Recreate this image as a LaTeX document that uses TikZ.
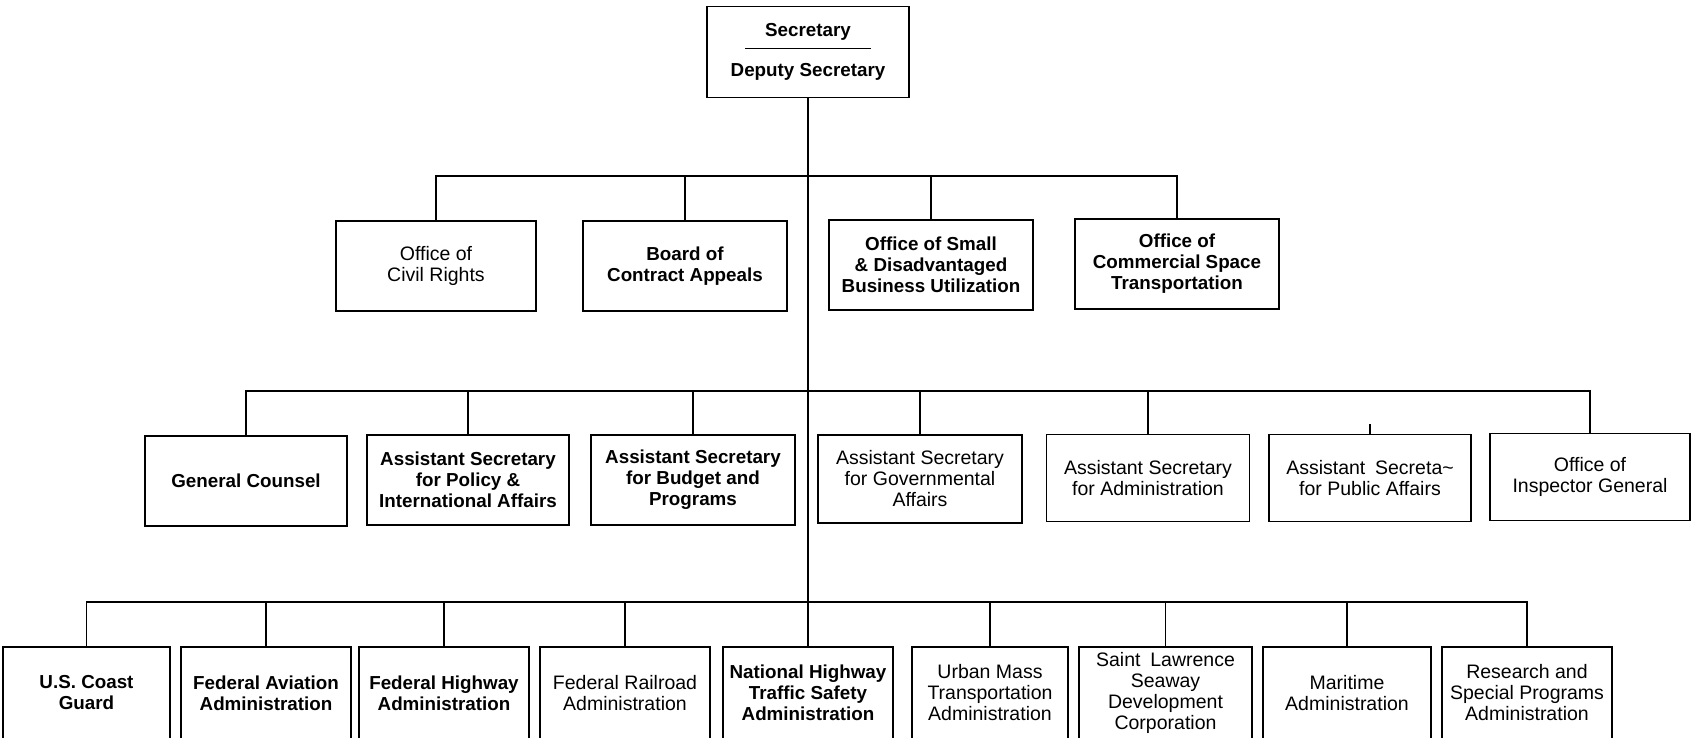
\documentclass[tikz,border=0pt]{standalone}
\usepackage{fontspec}
\setmainfont{Liberation Sans}
\usetikzlibrary{positioning}
\usetikzlibrary{calc}

\tikzset{
  unit/.style={draw, line width=1.4pt, align=center, inner sep=2pt,
    font=\fontsize{19.5}{21}\selectfont},
  bunit/.style={unit, font=\fontsize{18.8}{21}\selectfont\bfseries},
  link/.style={line width=1.3pt},
}

\begin{document}
\begin{tikzpicture}[x=1pt, y=-1pt]
    \useasboundingbox (0,0) rectangle (1692,737);

    % head of department
    \node [bunit, minimum width=202pt, minimum height=91pt] (sec) at (808,52)
        {Secretary\\[19pt]Deputy Secretary};
    \draw [line width=1pt] ($(sec.center)+(-63,-4)$) -- ($(sec.center)+(63,-4)$);

    % staff offices
    \node [unit, minimum width=200pt, minimum height=90pt] (civil) at (436,266) {Office of\\Civil Rights};
    \node [bunit, minimum width=204pt, minimum height=90pt] (contract) at (685,266) {Board of\\Contract Appeals};
    \node [bunit, minimum width=204pt, minimum height=90pt] (small) at (931,265) {Office of Small\\\& Disadvantaged\\Business Utilization};
    \node [bunit, minimum width=204pt, minimum height=90pt] (space) at (1177,264) {Office of\\Commercial Space\\Transportation};

    % assistant secretaries
    \node [bunit, minimum width=202pt, minimum height=90pt] (counsel) at (246,481) {General Counsel};
    \node [bunit, minimum width=202pt, minimum height=90pt] (policy) at (468,480) {Assistant Secretary\\for Policy \&\\International Affairs};
    \node [bunit, minimum width=204pt, minimum height=90pt] (budget) at (693,480) {Assistant Secretary\\for Budget and\\Programs};
    \node [unit, minimum width=204pt, minimum height=88pt] (govt) at (920,479) {Assistant Secretary\\for Governmental\\Affairs};
    \node [unit, minimum width=203pt, minimum height=87pt] (admin) at (1148,478) {Assistant Secretary\\for Administration};
    \node [unit, minimum width=202pt, minimum height=87pt] (public) at (1370,478) {Assistant\enspace Secreta\textasciitilde\\for Public Affairs};
    \node [unit, minimum width=200pt, minimum height=87pt] (inspector) at (1590,477) {Office of\\Inspector General};

    % operating administrations
    \node [bunit, minimum width=167pt, minimum height=92pt] (guard) at (86.5,693) {U.S. Coast\\Guard};
    \node [bunit, minimum width=170pt, minimum height=92pt] (aviation) at (266,693) {Federal Aviation\\Administration};
    \node [bunit, minimum width=170pt, minimum height=92pt] (highway) at (444,693) {Federal Highway\\Administration};
    \node [unit, minimum width=170pt, minimum height=92pt] (railroad) at (625,693) {Federal Railroad\\Administration};
    \node [bunit, minimum width=170pt, minimum height=92pt] (nhtsa) at (808,693) {National Highway\\Traffic Safety\\Administration};
    \node [unit, minimum width=156pt, minimum height=92pt] (urban) at (990,693) {Urban Mass\\Transportation\\Administration};
    \node [unit, minimum width=173pt, minimum height=92pt] (seaway) at (1165.5,693) {Saint\enspace Lawrence\\Seaway\\Development\\Corporation};
    \node [unit, minimum width=168pt, minimum height=92pt] (maritime) at (1347,693) {Maritime\\Administration};
    \node [unit, minimum width=170pt, minimum height=92pt] (research) at (1527,693) {Research and\\Special Programs\\Administration};

    \coordinate (bus1) at (808,176);
    \coordinate (bus2) at (808,391);
    \coordinate (bus3) at (808,602);

    % trunk and buses
    \draw [link] (sec.south) -- (nhtsa.north);
    \draw [link] (civil.north) |- (bus1) -| (space.north);
    \draw [link] (contract.north) -- (contract.north |- bus1);
    \draw [link] (small.north) -- (small.north |- bus1);
    \draw [link] (counsel.north) |- (bus2) -| (inspector.north);
    \foreach \n in {policy, budget, govt, admin}
        \draw [link] (\n.north) -- (\n.north |- bus2);
    \draw [link] (public.north) -- ++(0,-10);
    \draw [link] (guard.north) |- (bus3) -| (research.north);
    \foreach \n in {aviation, highway, railroad, urban, seaway, maritime}
        \draw [link] (\n.north) -- (\n.north |- bus3);
\end{tikzpicture}
\end{document}
